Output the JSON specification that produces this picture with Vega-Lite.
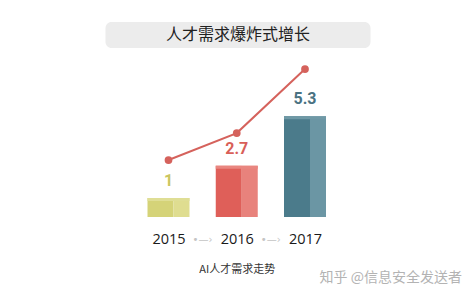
{
  "$schema": "https://vega.github.io/schema/vega-lite/v6.json",
  "background": "white",
  "padding": {"top": 22, "left": 0, "right": 0, "bottom": 0},
  "config": {"view": {"stroke": null}},
  "title": {"text": "知乎 @信息安全发送者", "orient": "bottom", "anchor": "end", "dx": -14, "offset": -4, "font": "Noto Sans CJK SC", "fontSize": 14, "fontWeight": "normal", "color": "#b3b3b3"},
  "vconcat": [
    {
      "width": 265,
      "height": 26,
      "view": {"fill": "#ececec", "stroke": null, "cornerRadius": 6},
      "data": {"values": [{"title": "人才需求爆炸式增长"}]},
      "mark": {"type": "text", "font": "Noto Sans CJK SC", "fontSize": 16, "color": "#222222"},
      "encoding": {"text": {"field": "title"}}
    },
    {
      "width": 476,
      "height": 162,
      "data": {"values": [
        {"year": 2015, "value": 1, "trend": 3.0},
        {"year": 2016, "value": 2.7, "trend": 4.42},
        {"year": 2017, "value": 5.3, "trend": 7.79}
      ]},
      "encoding": {
        "x": {"field": "year", "type": "ordinal", "scale": {"type": "point", "range": [168.5, 305], "padding": 0},
          "axis": {"domain": false, "ticks": false, "grid": false, "labelAngle": 0,
            "labelOverlap": false, "labelFlush": false, "labelBound": false, "labelAlign": "center",
            "labelPadding": 15, "labelFontSize": 14.5, "labelFont": "Open Sans", "labelColor": "#1a1a1a",
            "title": "AI人才需求走势", "titleFont": "Noto Sans CJK SC", "titleFontSize": 11, "titleFontWeight": "normal", "titleColor": "#333333", "titlePadding": 18}}
      },
      "resolve": {"scale": {"color": "independent"}},
      "layer": [
        {
          "mark": {"type": "bar", "width": 26, "xOffset": -8},
          "encoding": {
            "y": {"field": "value", "type": "quantitative", "scale": {"domain": [0, 8.53], "nice": false, "zero": true}, "axis": null},
            "color": {"field": "year", "type": "nominal", "legend": null, "scale": {"domain": [2015, 2016, 2017], "range": ["#d5d378", "#df5f59", "#4b7b8b"]}}
          }
        },
        {
          "mark": {"type": "bar", "width": 16, "xOffset": 13},
          "encoding": {
            "y": {"field": "value", "type": "quantitative", "axis": null},
            "color": {"field": "year", "type": "nominal", "legend": null, "scale": {"domain": [2015, 2016, 2017], "range": ["#dfdd90", "#e8827c", "#6b96a4"]}}
          }
        },
        {
          "mark": {"type": "bar", "width": 42, "y2Offset": 3},
          "encoding": {
            "y": {"field": "value", "type": "quantitative", "axis": null},
            "y2": {"field": "value"},
            "color": {"field": "year", "type": "nominal", "legend": null, "scale": {"domain": [2015, 2016, 2017], "range": ["#dfde95", "#e98680", "#6f99a6"]}}
          }
        },
        {
          "mark": {"type": "line", "color": "#d5625c", "strokeWidth": 2},
          "encoding": {"y": {"field": "trend", "type": "quantitative", "axis": null}}
        },
        {
          "mark": {"type": "circle", "color": "#d5625c", "size": 60, "opacity": 1},
          "encoding": {"y": {"field": "trend", "type": "quantitative", "axis": null}}
        },
        {
          "mark": {"type": "text", "dy": -17, "fontSize": 16, "fontWeight": "bold", "font": "Roboto"},
          "encoding": {
            "y": {"field": "value", "type": "quantitative", "axis": null},
            "text": {"field": "value", "type": "quantitative"},
            "color": {"field": "year", "type": "nominal", "legend": null, "scale": {"domain": [2015, 2016, 2017], "range": ["#cbc660", "#d95f59", "#4a7282"]}}
          }
        },
        {
          "transform": [{"filter": "datum.year < 2017"}],
          "mark": {"type": "text", "text": "•—›", "dx": 34, "dy": 23, "fontSize": 10, "color": "#c4c4c4", "font": "DejaVu Sans"},
          "encoding": {"y": {"datum": 0, "type": "quantitative", "axis": null}}
        }
      ]
    }
  ],
  "center": true,
  "spacing": 7
}
